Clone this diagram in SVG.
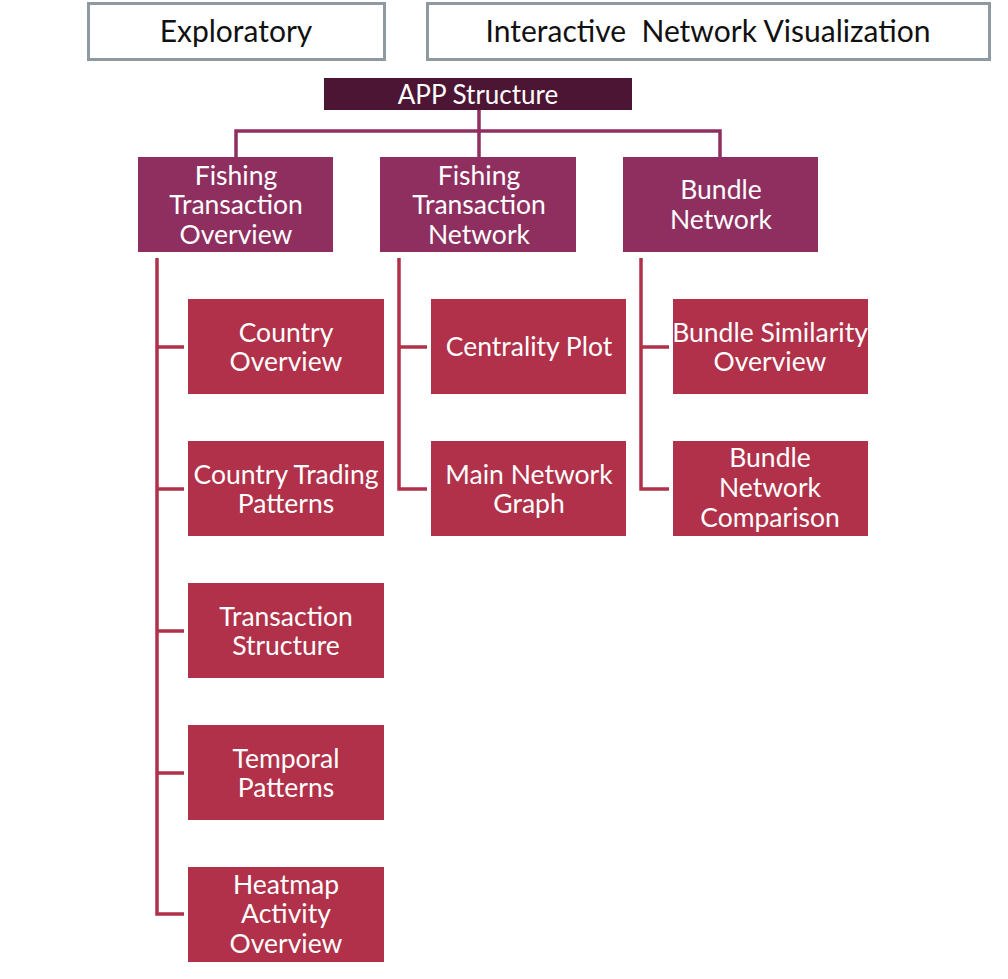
<svg xmlns="http://www.w3.org/2000/svg" width="1008" height="979" viewBox="0 0 1008 979">
  <style>
    .hdr { fill: #ffffff; stroke: #8f99a2; stroke-width: 3; }
    .hdr-t { font-family: Lato, "Open Sans", sans-serif; font-size: 30px; fill: #111111; text-anchor: middle; }
    .root { fill: #4c1533; }
    .l2 { fill: #8e2f5f; }
    .l3 { fill: #b03149; }
    .t { font-family: Lato, "Open Sans", sans-serif; font-size: 26.5px; fill: #ffffff; text-anchor: middle; }
    .root-t { font-family: Lato, "Open Sans", sans-serif; font-size: 26px; fill: #ffffff; text-anchor: middle; }
    .c2 { fill: none; stroke: #8e2f5f; stroke-width: 3.5; }
    .c3 { fill: none; stroke: #b03149; stroke-width: 3.5; }
  </style>

  <!-- header labels -->
  <g id="exploratory">
    <rect class="hdr" x="88.5" y="3.5" width="296" height="56"/>
    <text class="hdr-t" x="236" y="42">Exploratory</text>
  </g>
  <g id="interactive">
    <rect class="hdr" x="427.5" y="3.5" width="562" height="56"/>
    <text class="hdr-t" x="708" y="42" xml:space="preserve">Interactive  Network Visualization</text>
  </g>

  <!-- connectors -->
  <g id="connectors">
    <path class="c2" d="M479 110 V157 M236 157 V131 H720 V157"/>
    <path class="c3" d="M157 258 V914 H184 M157 347 H184 M157 489 H184 M157 631 H184 M157 773 H184"/>
    <path class="c3" d="M399 258 V489 H427 M399 347 H427"/>
    <path class="c3" d="M641 258 V489 H669 M641 347 H669"/>
  </g>

  <!-- root -->
  <g id="app-structure">
    <rect class="root" x="324" y="78" width="308" height="32"/>
    <text class="root-t" x="478" y="104">APP Structure</text>
  </g>

  <!-- second level -->
  <g id="fishing-transaction-overview">
    <rect class="l2" x="138" y="157" width="195" height="95"/>
    <text class="t" x="236" y="185">Fishing</text>
    <text class="t" x="236" y="214">Transaction</text>
    <text class="t" x="236" y="244">Overview</text>
  </g>
  <g id="fishing-transaction-network">
    <rect class="l2" x="380" y="157" width="196" height="95"/>
    <text class="t" x="479" y="185">Fishing</text>
    <text class="t" x="479" y="214">Transaction</text>
    <text class="t" x="479" y="244">Network</text>
  </g>
  <g id="bundle-network">
    <rect class="l2" x="623" y="157" width="195" height="95"/>
    <text class="t" x="721" y="199">Bundle</text>
    <text class="t" x="721" y="229">Network</text>
  </g>

  <!-- third level: left column -->
  <g id="country-overview">
    <rect class="l3" x="188" y="299" width="196" height="95"/>
    <text class="t" x="286" y="342">Country</text>
    <text class="t" x="286" y="371">Overview</text>
  </g>
  <g id="country-trading-patterns">
    <rect class="l3" x="188" y="441" width="196" height="95"/>
    <text class="t" x="286" y="484">Country Trading</text>
    <text class="t" x="286" y="513">Patterns</text>
  </g>
  <g id="transaction-structure">
    <rect class="l3" x="188" y="583" width="196" height="95"/>
    <text class="t" x="286" y="626">Transaction</text>
    <text class="t" x="286" y="655">Structure</text>
  </g>
  <g id="temporal-patterns">
    <rect class="l3" x="188" y="725" width="196" height="95"/>
    <text class="t" x="286" y="768">Temporal</text>
    <text class="t" x="286" y="797">Patterns</text>
  </g>
  <g id="heatmap-activity-overview">
    <rect class="l3" x="188" y="867" width="196" height="95"/>
    <text class="t" x="286" y="894">Heatmap</text>
    <text class="t" x="286" y="923">Activity</text>
    <text class="t" x="286" y="953">Overview</text>
  </g>

  <!-- third level: middle column -->
  <g id="centrality-plot">
    <rect class="l3" x="431" y="299" width="195" height="95"/>
    <text class="t" x="529" y="356">Centrality Plot</text>
  </g>
  <g id="main-network-graph">
    <rect class="l3" x="431" y="441" width="195" height="95"/>
    <text class="t" x="529" y="484">Main Network</text>
    <text class="t" x="529" y="513">Graph</text>
  </g>

  <!-- third level: right column -->
  <g id="bundle-similarity-overview">
    <rect class="l3" x="673" y="299" width="195" height="95"/>
    <text class="t" x="770" y="342">Bundle Similarity</text>
    <text class="t" x="770" y="371">Overview</text>
  </g>
  <g id="bundle-network-comparison">
    <rect class="l3" x="673" y="441" width="195" height="95"/>
    <text class="t" x="770" y="467">Bundle</text>
    <text class="t" x="770" y="497">Network</text>
    <text class="t" x="770" y="527">Comparison</text>
  </g>
</svg>
